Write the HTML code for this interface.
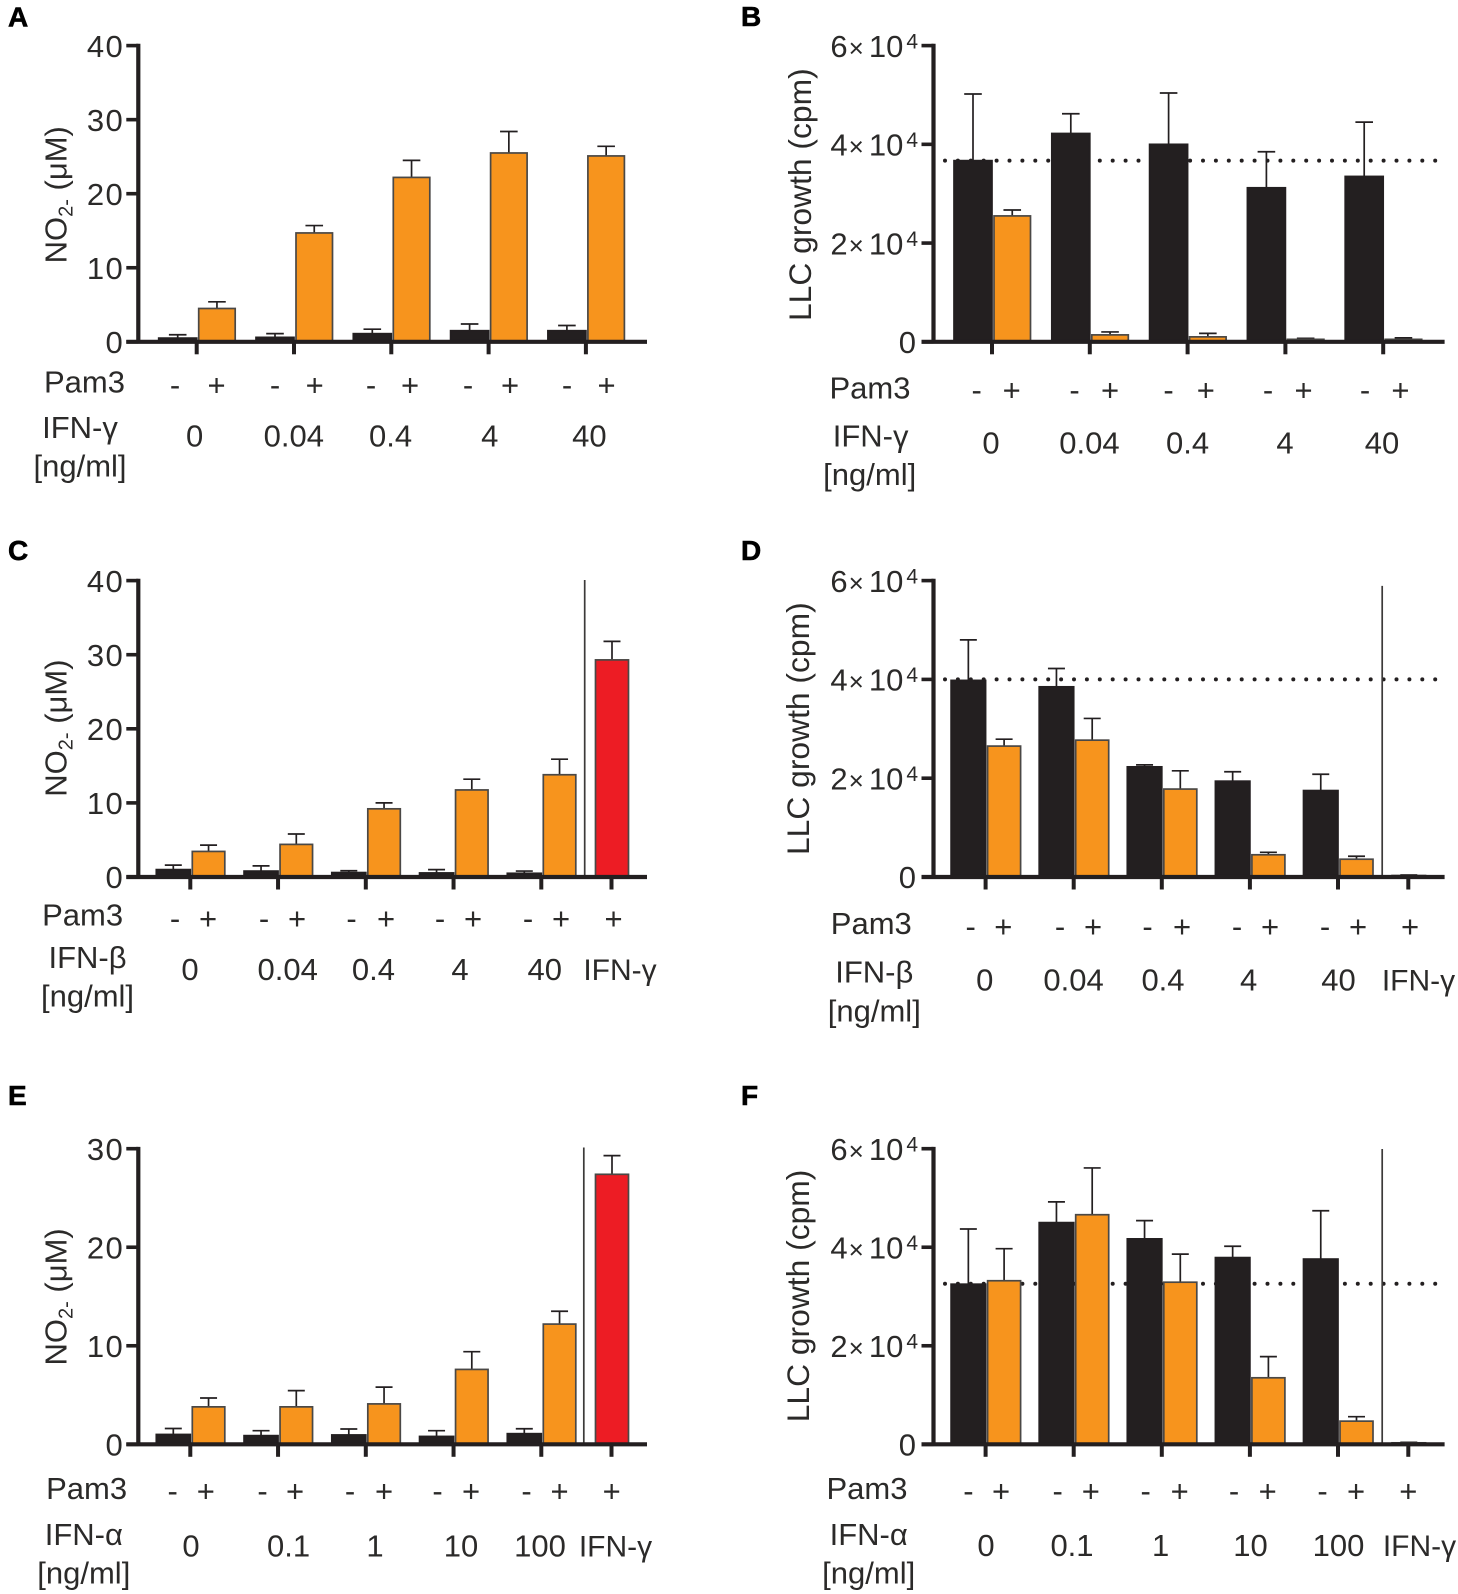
<!DOCTYPE html>
<html lang="en">
<head>
<meta charset="utf-8">
<title>Nitrite production and LLC growth panels</title>
<style>
html,body{margin:0;padding:0;background:#fff;}
svg{display:block;}
text{font-family:"Liberation Sans",sans-serif;fill:#2b2a29;font-size:31px;}
.mid{text-anchor:middle;}
.letter{font-weight:700;font-size:28px;fill:#000;stroke:#000;stroke-width:.6px;}
.llc{font-size:31.8px;}
.ctl{font-size:30px;}
</style>
</head>
<body>
<svg id="figure" xmlns="http://www.w3.org/2000/svg" width="1458" height="1594" viewBox="0 0 1458 1594">
<rect width="1458" height="1594" fill="#fff"/>
<g id="plots"></g>

<g>
<text class="letter" x="8" y="26.6">A</text>
<text transform="translate(66.5 263.4) rotate(-90)">NO<tspan font-size="20" dy="6">2-</tspan><tspan dy="-6"> (μM)</tspan></text>
<text class="mid" x="84.5" y="392.7">Pam3</text>
<text class="mid" x="175 216.5 275 314.7 371 410 468 510 567 606.6" y="395.5">-+-+-+-+-+</text>
<text class="mid" x="80" y="438.2">IFN-γ</text>
<text class="mid" x="80" y="476.7">[ng/ml]</text>
<text class="mid" x="194.6" y="446.6">0</text>
<text class="mid" x="293.8" y="446.6">0.04</text>
<text class="mid" x="390.6" y="446.6">0.4</text>
<text class="mid" x="489.8" y="446.6">4</text>
<text class="mid" x="589.4" y="446.6">40</text>
</g>

<g>
<text class="letter" x="741" y="26.1">B</text>
<text class="llc" transform="translate(811 321) rotate(-90)">LLC growth (cpm)</text>
<text class="mid" x="870" y="398.4">Pam3</text>
<text class="mid" x="976.7 1011.7 1074.5 1110 1168.5 1205.8 1268 1303.6 1365 1400.4" y="400.5">-+-+-+-+-+</text>
<text class="mid" x="870.6" y="446.6">IFN-γ</text>
<text class="mid" x="869.7" y="485">[ng/ml]</text>
<text class="mid" x="991" y="453.3">0</text>
<text class="mid" x="1089.4" y="453.3">0.04</text>
<text class="mid" x="1187.6" y="453.3">0.4</text>
<text class="mid" x="1285" y="453.3">4</text>
<text class="mid" x="1382" y="453.3">40</text>
</g>

<g>
<text class="letter" x="8" y="560.2">C</text>
<text transform="translate(66.5 796.7) rotate(-90)">NO<tspan font-size="20" dy="6">2-</tspan><tspan dy="-6"> (μM)</tspan></text>
<text class="mid" x="82.6" y="925.7">Pam3</text>
<text class="mid" x="175 208 264 297 351.5 386 440 473 528 561 613.6" y="929">-+-+-+-+-++</text>
<text class="mid" x="87.5" y="968.2">IFN-β</text>
<text class="mid" x="87.5" y="1006.7">[ng/ml]</text>
<text class="mid" x="190" y="980.1">0</text>
<text class="mid" x="287.7" y="980.1">0.04</text>
<text class="mid" x="373.4" y="980.1">0.4</text>
<text class="mid" x="460" y="980.1">4</text>
<text class="mid" x="544.7" y="980.1">40</text>
<text class="mid ctl" x="620" y="980.1">IFN-γ</text>
</g>

<g>
<text class="letter" x="741" y="560.2">D</text>
<text class="llc" transform="translate(808.8 855) rotate(-90)">LLC growth (cpm)</text>
<text class="mid" x="871.3" y="934">Pam3</text>
<text class="mid" x="970.7 1003.3 1060 1093 1147.6 1182 1237 1270 1325 1358 1410" y="937">-+-+-+-+-++</text>
<text class="mid" x="874.3" y="982.6">IFN-β</text>
<text class="mid" x="874.3" y="1021.4">[ng/ml]</text>
<text class="mid" x="984.7" y="990.7">0</text>
<text class="mid" x="1073.6" y="990.7">0.04</text>
<text class="mid" x="1163" y="990.7">0.4</text>
<text class="mid" x="1248.6" y="990.7">4</text>
<text class="mid" x="1338.5" y="990.7">40</text>
<text class="mid ctl" x="1418.5" y="990.7">IFN-γ</text>
</g>

<g>
<text class="letter" x="8" y="1105.2">E</text>
<text transform="translate(66.5 1365.5) rotate(-90)">NO<tspan font-size="20" dy="6">2-</tspan><tspan dy="-6"> (μM)</tspan></text>
<text class="mid" x="86.6" y="1499.2">Pam3</text>
<text class="mid" x="172.7 205.8 262.6 295 350 384 437.6 471 526.5 559.6 611.7" y="1501.6">-+-+-+-+-++</text>
<text class="mid" x="83.8" y="1544.8">IFN-α</text>
<text class="mid" x="83.8" y="1583.3">[ng/ml]</text>
<text class="mid" x="191" y="1556.7">0</text>
<text class="mid" x="288.6" y="1556.7">0.1</text>
<text class="mid" x="375" y="1556.7">1</text>
<text class="mid" x="461" y="1556.7">10</text>
<text class="mid" x="540" y="1556.7">100</text>
<text class="mid ctl" x="615.5" y="1556.7">IFN-γ</text>
</g>

<g>
<text class="letter" x="741" y="1105.2">F</text>
<text class="llc" transform="translate(808.8 1422.3) rotate(-90)">LLC growth (cpm)</text>
<text class="mid" x="867" y="1499.2">Pam3</text>
<text class="mid" x="968.4 1001 1057.7 1090.8 1145.7 1179.7 1234 1267.7 1322.6 1356 1408.3" y="1501.6">-+-+-+-+-++</text>
<text class="mid" x="868.7" y="1544.8">IFN-α</text>
<text class="mid" x="868.7" y="1583.3">[ng/ml]</text>
<text class="mid" x="986" y="1556">0</text>
<text class="mid" x="1072" y="1556">0.1</text>
<text class="mid" x="1160.6" y="1556">1</text>
<text class="mid" x="1250.5" y="1556">10</text>
<text class="mid" x="1338.5" y="1556">100</text>
<text class="mid ctl" x="1419.5" y="1556">IFN-γ</text>
</g>
</svg>

<script>
// Tick values
const no40Ticks = [0, 10, 20, 30, 40];
const no30Ticks = [0, 10, 20, 30];
const llcTicks = [0, 2, 4, 6];

// Panel A: NO2- (uM), IFN-gamma
const aMinus = [0.5, 0.6, 1.1, 1.5, 1.5];
const aMinusTop = [0.95, 1.1, 1.7, 2.4, 2.2];
const aPlus = [4.5, 14.7, 22.2, 25.5, 25.1];
const aPlusTop = [5.4, 15.7, 24.5, 28.4, 26.4];

// Panel B: LLC growth (x10^4 cpm), IFN-gamma
const bMinus = [3.67, 4.22, 4.0, 3.12, 3.35];
const bMinusTop = [5.02, 4.62, 5.04, 3.85, 4.45];
const bPlus = [2.55, 0.14, 0.1, 0.05, 0.05];
const bPlusTop = [2.67, 0.2, 0.17, 0.07, 0.08];
const bBaseline = 3.67;

// Panel C: NO2- (uM), IFN-beta
const cMinus = [1.0, 0.8, 0.6, 0.55, 0.5];
const cMinusTop = [1.6, 1.5, 0.85, 1.0, 0.8];
const cPlus = [3.45, 4.4, 9.2, 11.75, 13.8];
const cPlusTop = [4.3, 5.8, 10, 13.2, 15.9];
const cControl = 29.3;
const cControlTop = 31.8;

// Panel D: LLC growth (x10^4 cpm), IFN-beta
const dMinus = [3.98, 3.85, 2.23, 1.94, 1.75];
const dMinusTop = [4.8, 4.22, 2.27, 2.13, 2.08];
const dPlus = [2.65, 2.77, 1.78, 0.45, 0.36];
const dPlusTop = [2.79, 3.21, 2.15, 0.5, 0.42];
const dControl = 0.03;
const dControlTop = 0.04;
const dBaseline = 4.0;

// Panel E: NO2- (uM), IFN-alpha
const eMinus = [1.0, 0.88, 0.95, 0.8, 1.08];
const eMinusTop = [1.6, 1.38, 1.55, 1.38, 1.58];
const ePlus = [3.8, 3.8, 4.1, 7.6, 12.2];
const ePlusTop = [4.7, 5.45, 5.8, 9.4, 13.5];
const eControl = 27.4;
const eControlTop = 29.3;

// Panel F: LLC growth (x10^4 cpm), IFN-alpha
const fMinus = [3.25, 4.5, 4.17, 3.79, 3.76];
const fMinusTop = [4.37, 4.92, 4.54, 4.02, 4.74];
const fPlus = [3.32, 4.66, 3.29, 1.35, 0.47];
const fPlusTop = [3.97, 5.61, 3.86, 1.78, 0.56];
const fControl = 0.03;
const fControlTop = 0.04;
const fBaseline = 3.26;

const INK = '#231f20';
const ORANGE = '#f7941d';
const RED = '#ed1c24';
const NS = 'http://www.w3.org/2000/svg';
const root = document.getElementById('plots');

function make(tag, parent, props) {
  const el = document.createElementNS(NS, tag);
  for (const k in props) el.setAttribute(k, props[k]);
  parent.appendChild(el);
  return el;
}

function drawBar(g, x, w, yTop, yBase, yErr, fill, stroke, capHalf) {
  const cx = x + w / 2;
  const stem = make('line', g, {x1: cx, x2: cx, y1: yTop, y2: yErr, stroke: INK, 'stroke-width': 1.7});
  
  
  const cap = make('line', g, {x1: cx - capHalf, x2: cx + capHalf, y1: yErr, y2: yErr, stroke: INK, 'stroke-width': 1.7});
  
  
  const bar = make('rect', g, {x: x, y: yTop, width: w, height: Math.max(yBase - yTop, 0), fill: fill, stroke: stroke, 'stroke-width': 1.7});
  
  
}

function drawPanel(p) {
  const g = make('g', root, {});
  
  
  const y = v => p.y0 - (v / p.max) * (p.y0 - p.yTop);
  const tickX = i => p.tick0 + i * p.pitch;

  if (p.baseline !== undefined) {
    const dots = make('line', g, {x1: p.dotFrom, x2: p.dotTo, y1: y(p.baseline), y2: y(p.baseline), stroke: INK, 'stroke-width': 4, 'stroke-linecap': 'round', 'stroke-dasharray': '0 12.9'});
    
    
  }

  p.minus.forEach((v, i) => {
    drawBar(g, tickX(i) - p.barW, p.barW, y(v), p.y0, y(p.minusTop[i]), INK, INK, p.cap);
    drawBar(g, tickX(i) + 2, p.barW - 1.5, y(p.plus[i]), p.y0, y(p.plusTop[i]), ORANGE, '#4a4846', p.cap);
  });

  if (p.control !== undefined) {
    const fill = p.control > 1 ? RED : INK;
    drawBar(g, p.controlTick - p.barW / 2 + 1, p.barW - 1, y(p.control), p.y0, y(p.controlTop), fill, '#4a4846', p.cap);
    const tickC = make('line', g, {x1: p.controlTick, x2: p.controlTick, y1: p.y0, y2: p.y0 + 12.5, stroke: INK, 'stroke-width': 4});
    
    
    const divider = make('line', g, {x1: p.divider, x2: p.divider, y1: p.divTop, y2: p.divBottom, stroke: '#3c3a39', 'stroke-width': 1.7});
    
    
  }

  p.minus.forEach((v, i) => {
    const t = make('line', g, {x1: tickX(i), x2: tickX(i), y1: p.y0, y2: p.y0 + 12.5, stroke: INK, 'stroke-width': 4});
    
    
  });

  const xAxis = make('line', g, {x1: p.left - 12, x2: p.xEnd, y1: p.y0, y2: p.y0, stroke: INK, 'stroke-width': 4.2});
  
  
  const yAxis = make('line', g, {x1: p.left, x2: p.left, y1: p.yTop - 1.8, y2: p.y0, stroke: INK, 'stroke-width': 4.2});
  
  

  p.ticks.forEach(v => {
    const t = make('line', g, {x1: p.left - 12, x2: p.left, y1: y(v), y2: y(v), stroke: INK, 'stroke-width': 3.6});
    
    
    const label = make('text', g, {x: p.labelEnd, y: y(v) + 11.2, 'text-anchor': 'end'});
    
    
    if (p.sci && v !== 0) {
      const lead = make('tspan', label, {});
      lead.textContent = String(v);
      const times = make('tspan', label, {'font-size': 26, dx: 1});
      times.textContent = '×';
      const ten = make('tspan', label, {dx: 5});
      ten.textContent = '10';
      const exp = make('tspan', label, {'font-size': 21, dy: -8.4, dx: 3});
      exp.textContent = '4';
    } else {
      label.setAttribute('letter-spacing', '1.5');
      label.setAttribute('x', p.labelEnd + 1.5 + (p.sci ? -2 : 0.8));
      label.textContent = String(v);
    }
  });
}

const no2Left = 138.3, llcLeft = 933.5;

drawPanel({id:'a', left:no2Left, labelEnd:122, xEnd:647, yTop:45.6, y0:341.8, max:40, ticks:no40Ticks, tick0:196.7, pitch:97.3, barW:38, cap:8.8, minus:aMinus, minusTop:aMinusTop, plus:aPlus, plusTop:aPlusTop});
drawPanel({id:'b', left:llcLeft, labelEnd:918, xEnd:1444.6, yTop:45.6, y0:341.8, max:6, ticks:llcTicks, sci:true, tick0:992, pitch:97.8, barW:38, cap:8.8, minus:bMinus, minusTop:bMinusTop, plus:bPlus, plusTop:bPlusTop, baseline:bBaseline, dotFrom:945, dotTo:1441});
drawPanel({id:'c', left:no2Left, labelEnd:122, xEnd:647, yTop:580.6, y0:877, max:40, ticks:no40Ticks, tick0:190.3, pitch:87.75, barW:34, cap:8.5, minus:cMinus, minusTop:cMinusTop, plus:cPlus, plusTop:cPlusTop, control:cControl, controlTop:cControlTop, controlTick:611.5, divider:584.7, divTop:580, divBottom:877});
drawPanel({id:'d', left:llcLeft, labelEnd:918, xEnd:1444.6, yTop:580.6, y0:877, max:6, ticks:llcTicks, sci:true, tick0:985.6, pitch:88.1, barW:34.5, cap:8.5, minus:dMinus, minusTop:dMinusTop, plus:dPlus, plusTop:dPlusTop, control:dControl, controlTop:dControlTop, controlTick:1408.3, divider:1382.2, divTop:585.9, divBottom:879, baseline:dBaseline, dotFrom:945, dotTo:1441});
drawPanel({id:'e', left:no2Left, labelEnd:122, xEnd:647, yTop:1148.7, y0:1444.3, max:30, ticks:no30Ticks, tick0:190.3, pitch:87.75, barW:34, cap:8.5, minus:eMinus, minusTop:eMinusTop, plus:ePlus, plusTop:ePlusTop, control:eControl, controlTop:eControlTop, controlTick:611.5, divider:583.8, divTop:1147.5, divBottom:1444});
drawPanel({id:'f', left:llcLeft, labelEnd:918, xEnd:1444.6, yTop:1148.7, y0:1444.3, max:6, ticks:llcTicks, sci:true, tick0:985.6, pitch:88.1, barW:34.5, cap:8.5, minus:fMinus, minusTop:fMinusTop, plus:fPlus, plusTop:fPlusTop, control:fControl, controlTop:fControlTop, controlTick:1408.3, divider:1382.2, divTop:1149, divBottom:1444, baseline:fBaseline, dotFrom:945, dotTo:1441});
</script>
</body>
</html>
